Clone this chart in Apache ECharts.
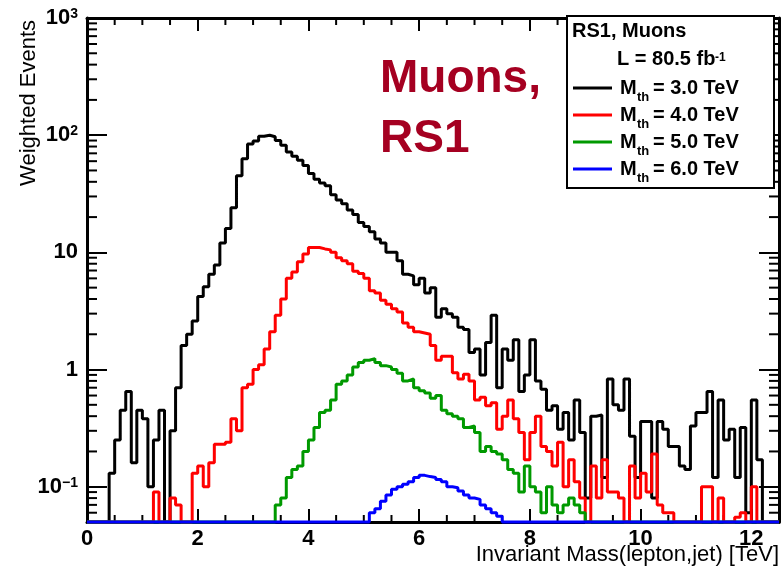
<!DOCTYPE html>
<html><head><meta charset="utf-8">
<script src="https://cdn.jsdelivr.net/npm/echarts@6/dist/echarts.min.js"></script>
<style>html,body{margin:0;padding:0;background:#fff}#c{width:781px;height:572px}</style>
</head><body><div id="c"></div>
<script>
const FONT = '"Liberation Sans", Arial, Helvetica, sans-serif';
const BIN_WIDTH = 0.1;
const X_MIN = 0, X_MAX = 12.5;
const Y_MIN = 0.05, Y_MAX = 1000;

const thresholdLabels = ['3.0', '4.0', '5.0', '6.0'];
const seriesNames = ['M_th = 3.0 TeV', 'M_th = 4.0 TeV', 'M_th = 5.0 TeV', 'M_th = 6.0 TeV'];
const seriesColors = ['#000000', '#ff0000', '#009900', '#0000ff'];

// weighted events per 0.1 TeV bin, starting at 0 TeV
const eventsMth3 = [
  0,0,0,0,0.13,0.25,0.45,0.65,0.16,0.45,
  0.38,0.1,0.25,0.45,0,0.3,0.7,1.6,2.0,2.6,
  4.2,5.1,6.5,7.8,12,16,24,45,63,84,
  89,98,100,97,90,82,72,66,61,55,
  47,42,39,37,31,28,26,23,21,18,
  16.6,15,13,12,10,10,8.5,6.5,6.3,5.3,
  6.0,4.5,5.0,2.8,3.3,3.0,2.8,2.3,2.2,1.4,
  1.5,0.9,1.7,2.9,0.7,1.5,1.2,1.8,0.65,0.9,
  1.8,0.8,0.68,0.45,0.49,0.31,0.43,0.25,0.55,0.29,
  0.08,0.4,0.41,0.12,0.83,0.5,0.45,0.83,0.27,0.12,
  0.36,0.36,0.08,0.36,0.31,0.22,0.22,0.15,0.14,0.33,
  0.43,0.43,0.65,0.12,0.55,0.25,0.31,0.12,0.32,0.06,
  0.55,0.17,0,0,0
];
const eventsMth4 = [
  0,0,0,0,0,0,0,0,0,0,
  0,0,0.09,0,0,0.08,0.07,0,0,0.13,
  0.15,0.1,0.16,0.23,0.23,0.24,0.38,0.3,0.7,0.75,
  1.0,1.1,1.5,2.1,2.9,4.0,6.0,6.8,8.3,9.7,
  11,11,10.7,10.5,10,9,8.5,8,6.9,6.6,
  6.0,4.7,4.5,3.9,3.6,3.3,3.1,2.5,2.3,2.1,
  2.05,2.0,1.6,1.2,1.3,1.3,0.94,0.83,0.91,0.8,
  0.55,0.58,0.49,0.52,0.31,0.4,0.55,0.38,0.29,0.17,
  0.29,0.4,0.22,0.2,0.15,0.24,0.1,0.17,0.11,0.08,
  0,0.15,0.08,0.17,0.09,0.09,0.08,0,0.15,0.08,
  0.13,0.09,0.19,0.07,0.06,0.06,0,0,0,0,
  0,0.1,0.1,0,0.08,0,0,0.055,0.06,0,
  0.1,0,0,0,0
];
const eventsMth5 = [
  0,0,0,0,0,0,0,0,0,0,
  0,0,0,0,0,0,0,0,0,0,
  0,0,0,0,0,0,0,0,0,0,
  0,0,0,0,0.07,0.08,0.12,0.14,0.15,0.2,
  0.25,0.32,0.43,0.45,0.55,0.75,0.8,0.9,1.05,1.15,
  1.2,1.24,1.15,1.08,1.05,1.0,0.93,0.8,0.83,0.7,
  0.66,0.63,0.57,0.6,0.45,0.42,0.4,0.38,0.32,0.33,
  0.29,0.2,0.22,0.2,0.19,0.17,0.14,0.13,0.09,0.15,
  0.1,0.09,0.06,0.1,0.07,0.06,0.07,0.08,0.07,0.06,
  0,0,0,0,0,0,0,0,0,0,
  0,0,0,0,0,0,0,0,0,0,
  0,0,0,0,0,0,0,0,0,0,
  0,0,0,0,0
];
const eventsMth6 = [
  0,0,0,0,0,0,0,0,0,0,
  0,0,0,0,0,0,0,0,0,0,
  0,0,0,0,0,0,0,0,0,0,
  0,0,0,0,0,0,0,0,0,0,
  0,0,0,0,0,0,0,0,0,0,
  0,0.06,0.065,0.075,0.085,0.095,0.1,0.105,0.11,0.12,
  0.125,0.122,0.12,0.115,0.11,0.1,0.098,0.092,0.085,0.08,
  0.078,0.07,0.065,0.06,0.056,0,0,0,0,0,
  0,0,0,0,0,0,0,0,0,0,
  0,0,0,0,0,0,0,0,0,0,
  0,0,0,0,0,0,0,0,0,0,
  0,0,0,0,0,0,0,0,0,0,
  0,0,0,0,0
];

const xTickLabels = [0, 2, 4, 6, 8, 10, 12];
const xMinorTicks = [0.5,1,1.5,2.5,3,3.5,4.5,5,5.5,6.5,7,7.5,8.5,9,9.5,10.5,11,11.5];
const yTickValues = [0.1, 1, 10, 100, 1000];
const yTickBase = ['10', '1', '10', '10', '10'];
const yTickExp = ['\u22121', '', '', '2', '3'];
const yMinorTicks = [0.06,0.07,0.08,0.09,0.2,0.3,0.4,0.5,0.6,0.7,0.8,0.9,2,3,4,5,6,7,8,9,20,30,40,50,60,70,80,90,200,300,400,500,600,700,800,900];

const allEvents = [eventsMth3, eventsMth4, eventsMth5, eventsMth6];

function toSteps(vals) {
  const pts = vals.map((v, i) => [Math.round(i * BIN_WIDTH * 100) / 100, v > Y_MIN ? v : Y_MIN]);
  const last = vals[vals.length - 1];
  pts.push([X_MAX, last > Y_MIN ? last : Y_MIN]);
  return pts;
}

const chart = echarts.init(document.getElementById('c'), null, { renderer: 'canvas' });

const axisLineStyle = { color: '#000', width: 3 };
const tickStyle = { color: '#000', width: 2 };

const lineSeries = allEvents.map((vals, i) => ({
  type: 'line',
  name: seriesNames[i],
  data: toSteps(vals),
  step: 'end',
  symbol: 'none',
  showSymbol: false,
  clip: false,
  lineStyle: { color: seriesColors[i], width: 3 },
  itemStyle: { color: seriesColors[i] },
  z: 3 + i,
  animation: false
}));

const minorX = {
  type: 'custom', coordinateSystem: 'cartesian2d', xAxisIndex: 0, yAxisIndex: 0,
  silent: true, z: 1, clip: false, animation: false,
  data: xMinorTicks.map(v => [v, 1]),
  renderItem: (params, api) => {
    const v = api.value(0);
    const b = api.coord([v, Y_MIN]);
    const t = api.coord([v, Y_MAX]);
    return { type: 'group', children: [
      { type: 'line', shape: { x1: b[0], y1: b[1], x2: b[0], y2: b[1] - 7 }, style: { stroke: '#000', lineWidth: 2 } },
      { type: 'line', shape: { x1: t[0], y1: t[1], x2: t[0], y2: t[1] + 7 }, style: { stroke: '#000', lineWidth: 2 } }
    ]};
  }
};
const minorY = {
  type: 'custom', coordinateSystem: 'cartesian2d', xAxisIndex: 0, yAxisIndex: 0,
  silent: true, z: 1, clip: false, animation: false,
  data: yMinorTicks.map(v => [1, v]),
  renderItem: (params, api) => {
    const v = api.value(1);
    const l = api.coord([X_MIN, v]);
    const r = api.coord([X_MAX, v]);
    return { type: 'group', children: [
      { type: 'line', shape: { x1: l[0], y1: l[1], x2: l[0] + 10, y2: l[1] }, style: { stroke: '#000', lineWidth: 2 } },
      { type: 'line', shape: { x1: r[0], y1: r[1], x2: r[0] - 10, y2: r[1] }, style: { stroke: '#000', lineWidth: 2 } }
    ]};
  }
};

function yLabel(v) {
  const idx = yTickValues.findIndex(t => Math.abs(Math.log10(v) - Math.log10(t)) < 1e-6);
  if (idx < 0) return '';
  return yTickExp[idx] ? '{b|' + yTickBase[idx] + '}{s|' + yTickExp[idx] + '}' : '{b|' + yTickBase[idx] + '}';
}

const xAxisBase = {
  type: 'value', min: X_MIN, max: X_MAX, interval: 2,
  axisLine: { show: true, onZero: false, lineStyle: axisLineStyle },
  axisTick: { show: true, inside: true, length: 13, lineStyle: tickStyle },
  splitLine: { show: false }
};
const yAxisBase = {
  type: 'log', logBase: 10, min: Y_MIN, max: Y_MAX,
  axisLine: { show: true, onZero: false, lineStyle: axisLineStyle },
  axisTick: { show: true, inside: true, length: 20, lineStyle: tickStyle },
  splitLine: { show: false }
};

const legendTop = [
  { type: 'rect', shape: { x: 567, y: 16, width: 207, height: 172 }, style: { fill: '#fff', stroke: '#000', lineWidth: 2 }, z: 100 },
  { type: 'text', x: 572, y: 31, style: { text: 'RS1, Muons', fontSize: 20, fontWeight: 'bold', fontFamily: FONT, fill: '#000', align: 'left', verticalAlign: 'middle' }, z: 101 },
  { type: 'text', x: 617, y: 59, style: { text: 'L = 80.5 fb', fontSize: 20, fontWeight: 'bold', fontFamily: FONT, fill: '#000', align: 'left', verticalAlign: 'middle' }, z: 101 },
  { type: 'text', x: 715, y: 52, style: { text: '-1', fontSize: 12, fontWeight: 'bold', fontFamily: FONT, fill: '#000', align: 'left', verticalAlign: 'top' }, z: 101 }
];
const legendBaselines = [95, 122, 149, 176];
const legendEntries = [];
thresholdLabels.forEach((t, i) => {
  const b = legendBaselines[i];
  legendEntries.push(
    { type: 'line', shape: { x1: 573, y1: b - 7, x2: 612, y2: b - 7 }, style: { stroke: seriesColors[i], lineWidth: 3 }, z: 101 },
    { type: 'text', x: 620, y: b - 7, style: { text: 'M', fontSize: 20, fontWeight: 'bold', fontFamily: FONT, fill: '#000', align: 'left', verticalAlign: 'middle' }, z: 101 },
    { type: 'text', x: 637, y: b + 2, style: { text: 'th', fontSize: 13, fontWeight: 'bold', fontFamily: FONT, fill: '#000', align: 'left', verticalAlign: 'middle' }, z: 101 },
    { type: 'text', x: 653, y: b - 7, style: { text: '= ' + t + ' TeV', fontSize: 20, fontWeight: 'bold', fontFamily: FONT, fill: '#000', align: 'left', verticalAlign: 'middle' }, z: 101 }
  );
});

const option = {
  animation: false,
  backgroundColor: '#ffffff',
  grid: { left: 87, right: 2, top: 18, bottom: 50, containLabel: false, outerBoundsMode: 'none' },
  xAxis: [
    Object.assign({}, xAxisBase, {
      position: 'bottom',
      axisLabel: {
        show: true, margin: 6, fontSize: 22, fontWeight: 'bold', fontFamily: FONT, color: '#000',
        showMinLabel: true, showMaxLabel: true, hideOverlap: false,
        formatter: v => (xTickLabels.indexOf(v) >= 0 ? String(v) : '')
      }
    }),
    Object.assign({}, xAxisBase, { position: 'top', axisLabel: { show: false } })
  ],
  yAxis: [
    Object.assign({}, yAxisBase, {
      position: 'left',
      axisLabel: {
        show: true, margin: 9, color: '#000', showMinLabel: true, showMaxLabel: true, hideOverlap: false,
        formatter: yLabel,
        rich: {
          b: { fontSize: 22, fontWeight: 'bold', fontFamily: FONT, color: '#000' },
          s: { fontSize: 14, fontWeight: 'bold', fontFamily: FONT, color: '#000', verticalAlign: 'top' }
        }
      }
    }),
    Object.assign({}, yAxisBase, { position: 'right', axisLabel: { show: false } })
  ],
  series: [minorX, minorY].concat(lineSeries),
  graphic: [
    { type: 'text', x: 29, y: 20, rotation: Math.PI / 2, style: { text: 'Weighted Events', fontSize: 22, fontFamily: FONT, fill: '#000', align: 'right', verticalAlign: 'middle' }, z: 100 },
    { type: 'text', x: 779, y: 555, style: { text: 'Invariant Mass(lepton,jet) [TeV]', fontSize: 22, fontFamily: FONT, fill: '#000', align: 'right', verticalAlign: 'middle' }, z: 100 },
    { type: 'text', x: 380, y: 79, style: { text: 'Muons,', fontSize: 46, fontWeight: 'bold', fontFamily: FONT, fill: '#a50021', align: 'left', verticalAlign: 'middle' }, z: 100 },
    { type: 'text', x: 380, y: 139, style: { text: 'RS1', fontSize: 46, fontWeight: 'bold', fontFamily: FONT, fill: '#a50021', align: 'left', verticalAlign: 'middle' }, z: 100 }
  ].concat(legendTop, legendEntries)
};
chart.setOption(option);
</script>
</body></html>
